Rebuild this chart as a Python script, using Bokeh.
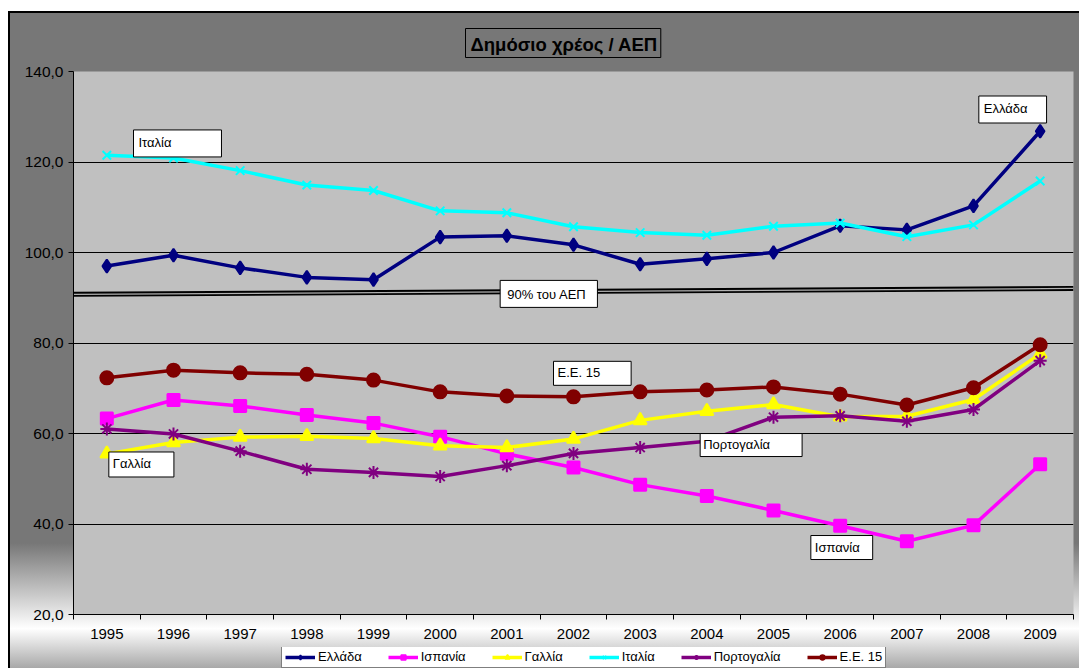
from bokeh.plotting import figure
from bokeh.layouts import column
from bokeh.models import Label, Legend, LegendItem, FixedTicker, Range1d
from bokeh.embed import file_html
from bokeh.resources import INLINE

years = list(range(1995, 2010))
greece = [97.0, 99.4, 96.6, 94.5, 94.0, 103.4, 103.7, 101.7, 97.4, 98.6, 100.0, 105.9, 105.0, 110.3, 126.8]
spain = [63.3, 67.4, 66.1, 64.1, 62.3, 59.3, 55.5, 52.5, 48.7, 46.2, 43.0, 39.6, 36.2, 39.7, 53.2]
france = [55.5, 58.0, 59.2, 59.4, 58.9, 57.3, 56.9, 58.8, 62.9, 64.9, 66.4, 63.7, 63.8, 67.5, 77.6]
italy = [121.5, 120.9, 118.1, 114.9, 113.7, 109.2, 108.8, 105.7, 104.4, 103.8, 105.8, 106.5, 103.5, 106.1, 115.8]
portugal = [61.0, 59.9, 56.1, 52.1, 51.4, 50.5, 52.9, 55.6, 56.9, 58.3, 63.6, 63.9, 62.7, 65.3, 76.1]
eu15 = [72.3, 74.0, 73.4, 73.1, 71.8, 69.2, 68.3, 68.1, 69.2, 69.6, 70.3, 68.7, 66.3, 70.1, 79.6]

series_names = ["Ελλάδα", "Ισπανία", "Γαλλία", "Ιταλία", "Πορτογαλία", "Ε.Ε. 15"]
series_values = [greece, spain, france, italy, portugal, eu15]
series_colors = ["#000080", "#FF00FF", "#FFFF00", "#00FFFF", "#800080", "#800000"]
series_markers = ["diamond", "square", "triangle", "x", "asterisk", "circle"]
series_sizes = [13, 12, 13, 12, 13, 13]

y_ticks = [20, 40, 60, 80, 100, 120, 140]
threshold_x = [1994.5, 2009.5]
threshold_y = [90.75, 92.05]

FONT = "Liberation Sans"

p = figure(frame_width=1000, frame_height=543, output_backend="svg", toolbar_location=None,
           x_range=Range1d(1994.5, 2009.5), y_range=Range1d(20, 140),
           min_border_left=65, min_border_right=6, min_border_top=60, min_border_bottom=33)
p.background_fill_color = "#c0c0c0"
p.border_fill_color = None
p.outline_line_color = None

p.title.text = "Δημόσιο χρέος / ΑΕΠ"
p.title.align = "left"
p.title.offset = 392
p.title.text_font = FONT
p.title.text_font_size = "18.5px"
p.title.text_font_style = "bold"
p.title.text_color = "black"
p.title.border_line_color = "black"
p.title.border_line_width = 1
p.title.padding = (5, 3, 5, 3)
p.title.standoff = 28

p.xgrid.grid_line_color = None
p.ygrid.ticker = FixedTicker(ticks=y_ticks)
p.ygrid.grid_line_color = "black"
p.ygrid.grid_line_width = 1

xa = p.xaxis[0]
xa.ticker = FixedTicker(ticks=years, minor_ticks=[y - 0.5 for y in years] + [years[-1] + 0.5])
xa.major_label_overrides = {y: str(y) for y in years}
xa.axis_label = None
xa.axis_label_standoff = 0
xa.major_tick_line_color = None
xa.major_tick_out = 5
xa.minor_tick_line_color = "black"
xa.minor_tick_out = 5
xa.minor_tick_in = 0
xa.axis_line_color = "black"
xa.major_label_standoff = 9
xa.major_label_text_font = FONT
xa.major_label_text_font_size = "15px"
xa.major_label_text_color = "black"

ya = p.yaxis[0]
ya.ticker = FixedTicker(ticks=y_ticks)
ya.major_label_overrides = {t: f"{t},0" for t in y_ticks}
ya.axis_label = None
ya.major_tick_out = 5
ya.major_tick_in = 0
ya.minor_tick_line_color = None
ya.axis_line_color = "black"
ya.major_label_standoff = 5
ya.major_label_text_font = FONT
ya.major_label_text_font_size = "15.5px"
ya.major_label_text_color = "black"

# 90% threshold double line
p.line(threshold_x, threshold_y, line_color="black", line_width=5)
p.line(threshold_x, threshold_y, line_color="#b0b0b0", line_width=1.2)

# legend strip below the chart (its key renderers use the same series, outside the strip's view)
lp = figure(width=1071, height=21, output_backend="svg", toolbar_location=None,
            x_axis_type=None, y_axis_type=None, x_range=Range1d(0, 1), y_range=Range1d(0, 1),
            min_border_left=0, min_border_right=0, min_border_top=0, min_border_bottom=0)
lp.border_fill_color = None
lp.background_fill_color = None
lp.outline_line_color = None

items = []
for name, vals, col, mk, sz in zip(series_names, series_values, series_colors, series_markers, series_sizes):
    p.line(years, vals, line_color=col, line_width=3.5)
    p.scatter(years, vals, marker=mk, size=sz, fill_color=col, line_color=col, line_width=2)
    kl = lp.line(years, vals, line_color=col, line_width=3.5)
    km = lp.scatter(years, vals, marker=mk, size=9, fill_color=col, line_color=col, line_width=1.5)
    items.append(LegendItem(label=name, renderers=[kl, km]))

legend = Legend(items=items, orientation="horizontal", location=(208, 0),
                border_line_color="black", border_line_width=1,
                background_fill_color="white", background_fill_alpha=1,
                label_text_font=FONT, label_text_font_size="13px", label_text_color="black",
                label_height=14, glyph_width=30, glyph_height=12, spacing=26, padding=3, margin=0,
                label_standoff=3)
lp.add_layout(legend, "center")

labels = [
    ("Ιταλία", 1995.40, 124.1, (5, 50, 5, 7)),
    ("Ελλάδα", 2008.08, 131.6, (5, 19, 5, 7)),
    ("90% του ΑΕΠ", 2000.90, 90.85, (7, 11, 7, 5)),
    ("Ε.Ε. 15", 2001.70, 73.3, (4, 31, 4, 5)),
    ("Γαλλία", 1995.03, 53.15, (4, 23, 4, 6)),
    ("Πορτογαλία", 2003.90, 57.45, (3, 32, 3, 5)),
    ("Ισπανία", 2005.56, 34.8, (4, 13, 4, 5)),
]
for txt, lx, ly, pad in labels:
    p.add_layout(Label(x=lx, y=ly, text=txt, text_align="left", text_baseline="middle",
                       text_font=FONT, text_font_size="13px", text_color="black",
                       background_fill_color="white", border_line_color="black",
                       border_line_width=1, padding=pad))

page = column(p, lp, spacing=0)
page.styles = {"background": "linear-gradient(to bottom, #777777 0%, #777777 81%, #ffffff 94%, #a8a8a8 100%)",
               "box-shadow": "inset 2px 2px 0 0 black",
               "margin-left": "8px", "margin-top": "11px"}

open("out.html", "w").write(file_html(page, INLINE))
